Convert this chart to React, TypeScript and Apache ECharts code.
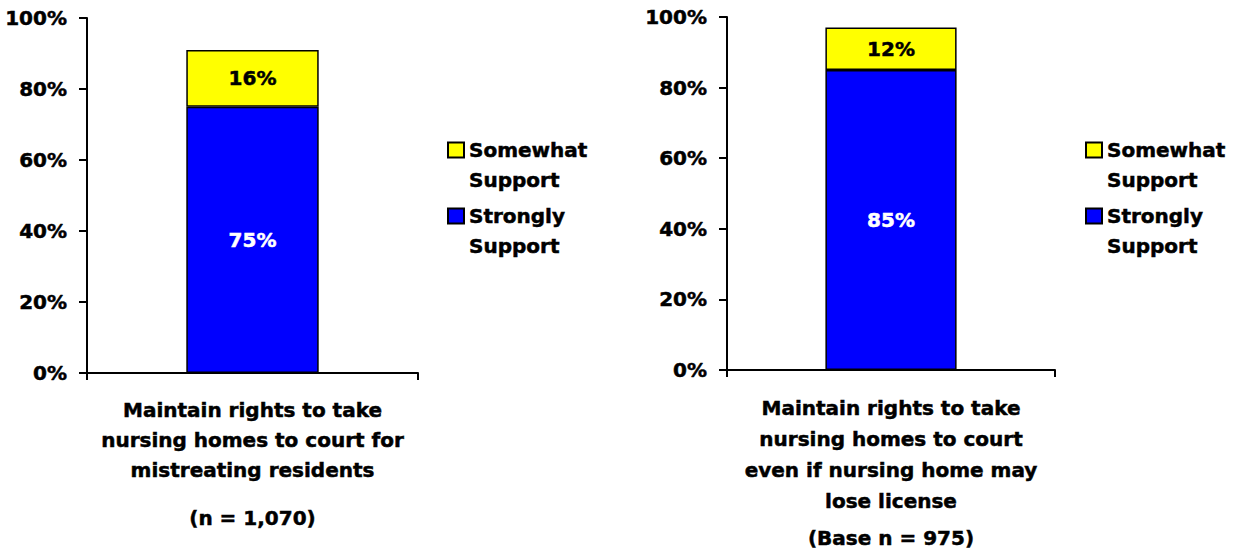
import React, { useEffect, useRef } from "react";
import * as echarts from "echarts";

const FONT = "DejaVu Sans";

const seriesNames = ["Somewhat Support", "Strongly Support"];
const leftCategory = ["Maintain rights to take\nnursing homes to court for\nmistreating residents"];
const rightCategory = ["Maintain rights to take\nnursing homes to court\neven if nursing home may\nlose license"];
const leftBase = "(n = 1,070)";
const rightBase = "(Base n = 975)";
const leftStrongly = [75];
const leftSomewhat = [16];
const rightStrongly = [85];
const rightSomewhat = [12];
const yTicks = [0, 20, 40, 60, 80, 100];

const BLUE = "#0000FF";
const YELLOW = "#FFFF00";

export default function App() {
  const ref = useRef<HTMLDivElement>(null);
  useEffect(() => {
    document.body.style.margin = "0";
    if (!ref.current) return;
    const chart = echarts.init(ref.current, undefined, { renderer: "svg" });
    const textBase = {
      fontFamily: FONT,
      fontWeight: "bold" as const,
      fontSize: 20,
      color: "#000",
      textBorderColor: "#000",
      textBorderWidth: 0.5,
    };
    const makeX = (gridIndex: number, data: string[], name: string, lh: number, nameGap: number) => ({
      type: "category",
      gridIndex,
      data,
      boundaryGap: true,
      name,
      nameLocation: "middle",
      nameGap,
      nameTextStyle: { ...textBase, lineHeight: 24 },
      axisLine: { lineStyle: { color: "#000", width: 2 } },
      axisTick: { show: true, length: 7, lineStyle: { color: "#000", width: 2 } },
      axisLabel: { ...textBase, lineHeight: lh, margin: 22, interval: 0 },
    });
    const makeY = (gridIndex: number) => ({
      type: "value",
      gridIndex,
      min: yTicks[0],
      max: yTicks[yTicks.length - 1],
      interval: yTicks[1] - yTicks[0],
      splitLine: { show: false },
      axisLine: { show: true, lineStyle: { color: "#000", width: 2 } },
      axisTick: { show: true, length: 8, lineStyle: { color: "#000", width: 2 } },
      axisLabel: { ...textBase, margin: 20, formatter: "{value}%" },
    });
    const barStyle = (color: string) => ({ color, borderColor: "#000", borderWidth: 1.5 });
    const lbl = (color: string) => ({
      show: true,
      position: "inside",
      ...textBase,
      color,
      textBorderColor: color,
      formatter: "{c}%",
    });
    const makeLegend = (left: number) => ({
      data: seriesNames,
      orient: "vertical",
      left,
      top: 100,
      icon: "rect",
      itemWidth: 16,
      itemHeight: 15,
      itemGap: -24,
      formatter: (n: string) => "\n" + n.replace(" ", "\n"),
      textStyle: { ...textBase, lineHeight: 30 },
    });
    chart.setOption({
      animation: false,
      backgroundColor: "#fff",
      legend: [makeLegend(442), makeLegend(1080)],
      grid: [
        { left: 87, top: 18, width: 331, height: 355 },
        { left: 727, top: 17, width: 328, height: 355 },
      ],
      xAxis: [
        makeX(0, leftCategory, leftBase, 30, 133),
        makeX(1, rightCategory, rightBase, 31, 156),
      ],
      yAxis: [makeY(0), makeY(1)],
      series: [
        { name: seriesNames[1], type: "bar", stack: "a", xAxisIndex: 0, yAxisIndex: 0, barWidth: "40%", data: leftStrongly, itemStyle: barStyle(BLUE), label: lbl("#fff") },
        { name: seriesNames[0], type: "bar", stack: "a", xAxisIndex: 0, yAxisIndex: 0, barWidth: "40%", data: leftSomewhat, itemStyle: barStyle(YELLOW), label: lbl("#000") },
        { name: seriesNames[1], type: "bar", stack: "b", xAxisIndex: 1, yAxisIndex: 1, barWidth: "40%", data: rightStrongly, itemStyle: barStyle(BLUE), label: lbl("#fff") },
        { name: seriesNames[0], type: "bar", stack: "b", xAxisIndex: 1, yAxisIndex: 1, barWidth: "40%", data: rightSomewhat, itemStyle: barStyle(YELLOW), label: lbl("#000") },
      ],
    });
    return () => chart.dispose();
  }, []);
  return <div ref={ref} style={{ width: 1238, height: 555 }} />;
}
